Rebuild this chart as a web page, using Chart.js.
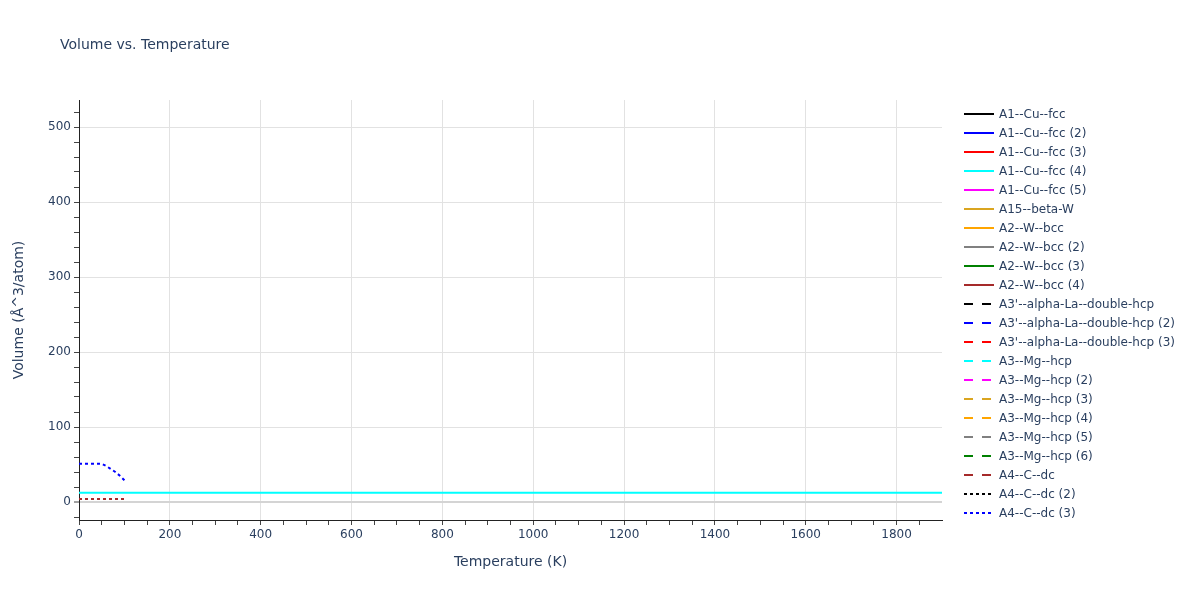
<!DOCTYPE html>
<html><head><meta charset="utf-8">
<script src="https://cdn.jsdelivr.net/npm/chart.js@4/dist/chart.umd.min.js"></script>
<style>html,body{margin:0;padding:0;background:#fff}#wrap{width:1200px;height:600px;position:relative}</style>
</head><body><div id="wrap"><canvas id="c" width="1200" height="600"></canvas></div>
<script>
const chartTitle = "Volume vs. Temperature";
const xTitle = "Temperature (K)";
const yTitle = "Volume (Å^3/atom)";

const seriesNames = ["A1--Cu--fcc","A1--Cu--fcc (2)","A1--Cu--fcc (3)","A1--Cu--fcc (4)","A1--Cu--fcc (5)",
  "A15--beta-W","A2--W--bcc","A2--W--bcc (2)","A2--W--bcc (3)","A2--W--bcc (4)",
  "A3'--alpha-La--double-hcp","A3'--alpha-La--double-hcp (2)","A3'--alpha-La--double-hcp (3)",
  "A3--Mg--hcp","A3--Mg--hcp (2)","A3--Mg--hcp (3)","A3--Mg--hcp (4)","A3--Mg--hcp (5)","A3--Mg--hcp (6)",
  "A4--C--dc","A4--C--dc (2)","A4--C--dc (3)"];
const seriesColors = ["black","blue","red","cyan","magenta","goldenrod","orange","gray","green","brown",
  "black","blue","red","cyan","magenta","goldenrod","orange","gray","green","brown","black","blue"];
const seriesDash = ["solid","solid","solid","solid","solid","solid","solid","solid","solid","solid",
  "dash","dash","dash","dash","dash","dash","dash","dash","dash","dash","dot","dot"];

// values
const tempsFull = [0,100,200,300,400,500,600,700,800,900,1000,1100,1200,1300,1400,1500,1600,1700,1800,1900];
const volA1CuFcc4 = [12.4,12.4,12.4,12.4,12.4,12.4,12.4,12.4,12.4,12.4,12.4,12.4,12.4,12.4,12.4,12.4,12.4,12.4,12.4,12.4];
const tempsLow = [0,10,20,30,40,50,60,70,80,90,100];
const volA4CDc = [4,4,4,4,4,4,4,4,4,4,4];
const volA4CDc3 = [51,51,51,51,51,51,48,44,40,35,29];

// tick positions (major labelled, minor unlabelled)
const xTickValues = [0,50,100,150,200,250,300,350,400,450,500,550,600,650,700,750,800,850,900,950,1000,1050,1100,1150,1200,1250,1300,1350,1400,1450,1500,1550,1600,1650,1700,1750,1800,1850];
const xTickLabels = ["0","200","400","600","800","1000","1200","1400","1600","1800"];
const yTickValues = [-20,0,20,40,60,80,100,120,140,160,180,200,220,240,260,280,300,320,340,360,380,400,420,440,460,480,500,520];
const yTickLabels = ["0","100","200","300","400","500"];
const xMin = 0, xMax = 1900, yMin = -24, yMax = 536;

function pts(xs, ys){ return xs.map((x,i)=>({x:x,y:ys[i]})); }
const seriesData = {3: pts(tempsFull, volA1CuFcc4), 19: pts(tempsLow, volA4CDc), 21: pts(tempsLow, volA4CDc3)};
const dashArr = d => d==='dash'?[9,9]:(d==='dot'?[3,3]:[]);
const drawDashOverride = {19:[3,3]};

const datasets = seriesNames.map((n,i)=>({
  label:n, data: seriesData[i]||[], borderColor: seriesColors[i], backgroundColor: seriesColors[i],
  borderWidth:2, pointRadius:0, fill:false, tension:0,
  borderDash: drawDashOverride[i] || dashArr(seriesDash[i])
}));

const FONT = "'DejaVu Sans', Verdana, sans-serif";
const TXT = '#2a3f5f';
const isLabel = (labels, v) => labels.indexOf(String(v)) >= 0;

const overlay = {
  id:'overlay',
  afterDraw(chart){
    const ctx = chart.ctx;
    ctx.save();
    ctx.fillStyle = TXT;
    ctx.font = '14px ' + FONT;
    ctx.textBaseline = 'middle';
    ctx.textAlign = 'left';
    ctx.fillText(chartTitle, 60, 45);
    ctx.font = '12px ' + FONT;
    seriesNames.forEach((n,i)=>{
      const y = 114 + 19*i;
      ctx.beginPath();
      ctx.strokeStyle = seriesColors[i];
      ctx.lineWidth = 2;
      ctx.setLineDash(dashArr(seriesDash[i]));
      ctx.moveTo(964,y); ctx.lineTo(994,y); ctx.stroke();
      ctx.setLineDash([]);
      ctx.fillStyle = TXT;
      ctx.fillText(n, 999, y+1);
    });
    ctx.restore();
  }
};

new Chart(document.getElementById('c'), {
  type:'line',
  data:{datasets},
  plugins:[overlay],
  options:{
    responsive:false, animation:false, devicePixelRatio:1,
    layout:{padding:{left:0,right:258,top:100,bottom:0}},
    plugins:{legend:{display:false}, title:{display:false}, tooltip:{enabled:false}},
    scales:{
      x:{type:'linear', min:xMin, max:xMax,
        afterFit(s){ s.height = 80; },
        afterBuildTicks(s){ s.ticks = xTickValues.map(v=>({value:v})); },
        ticks:{autoSkip:false, maxRotation:0, padding:3, color:TXT, font:{family:FONT,size:12},
          callback:v=> isLabel(xTickLabels, v) ? String(v) : ''},
        grid:{color:c=> (c.tick && isLabel(xTickLabels, c.tick.value)) ? '#e2e2e2' : 'rgba(0,0,0,0)', lineWidth:1,
          drawTicks:true, tickLength:5, tickColor:'#444', tickWidth:1},
        border:{display:true,color:'#222',width:1},
        title:{display:true,text:xTitle,color:TXT,font:{family:FONT,size:14},padding:{top:0,bottom:29}}
      },
      y:{type:'linear', min:yMin, max:yMax,
        afterFit(s){ s.width = 79; },
        afterBuildTicks(s){ s.ticks = yTickValues.map(v=>({value:v})); },
        ticks:{autoSkip:false, padding:3, color:TXT, font:{family:FONT,size:12},
          callback:v=> isLabel(yTickLabels, v) ? String(v) : ''},
        grid:{color:c=> !c.tick ? 'rgba(0,0,0,0)' : (c.tick.value===0 ? '#d4d4d4' : (isLabel(yTickLabels, c.tick.value) ? '#e2e2e2' : 'rgba(0,0,0,0)')),
          lineWidth:c=> (c.tick && c.tick.value===0) ? 2 : 1,
          drawTicks:true, tickLength:5, tickColor:'#444', tickWidth:1},
        border:{display:true,color:'#222',width:1},
        title:{display:true,text:yTitle,color:TXT,font:{family:FONT,size:14},padding:{top:11,bottom:0}}
      }
    }
  }
});
</script></body></html>
